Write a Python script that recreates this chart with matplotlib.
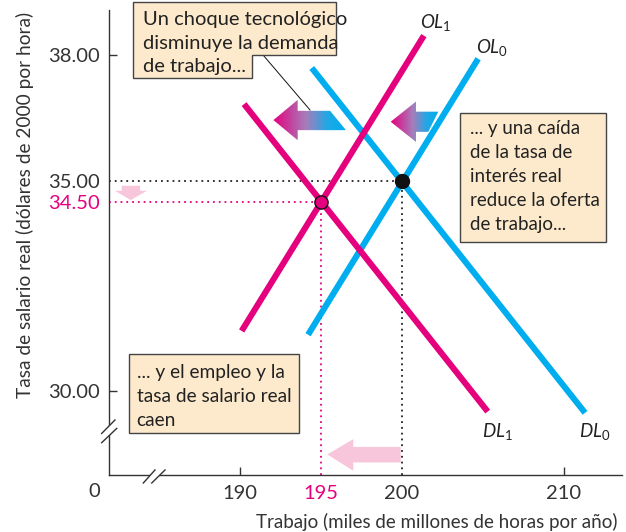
import matplotlib
matplotlib.use('Agg')
import matplotlib.pyplot as plt
import numpy as np
from matplotlib.patches import Polygon
from matplotlib.colors import LinearSegmentedColormap

plt.rcParams['font.family'] = ['Lato', 'DejaVu Sans']
plt.rcParams['mathtext.fontset'] = 'custom'
plt.rcParams['mathtext.it'] = 'Lato:italic'
plt.rcParams['mathtext.rm'] = 'Lato'

# ---------------- data ----------------
dl0_x = [194.43, 211.30]; dl0_y = [37.68, 29.47]
dl1_x = [190.25, 205.29]; dl1_y = [36.82, 29.50]
ol0_x = [194.20, 204.70]; ol0_y = [31.33, 37.90]
ol1_x = [190.10, 201.35]; ol1_y = [31.42, 38.45]
eq0 = (200.0, 35.0)
eq1 = (195.0, 34.5)
x_ticks = [190, 195, 200, 210]
x_labels = ['190', '195', '200', '210']
y_ticks = [30.0, 34.5, 35.0, 38.0]
y_labels = ['30.00', '34.50', '35.00', '38.00']

MAG = '#E5007E'
BLUE = '#00AEEF'
DARK = '#333333'
BOXFILL = '#FDE9CC'
PINK = '#F7C6DB'

fig = plt.figure(figsize=(6.26, 5.32), dpi=100)
ax = fig.add_axes([0.1746, 0.1071, 0.8190, 0.8741])
XMIN, XMAX, YMIN, YMAX = 181.93, 213.58, 27.99, 39.06
ax.set_xlim(XMIN, XMAX)
ax.set_ylim(YMIN, YMAX)
for s in ['top', 'right']:
    ax.spines[s].set_visible(False)
for s in ['left', 'bottom']:
    ax.spines[s].set_color(DARK)
    ax.spines[s].set_linewidth(1.0)

ax.set_xticks(x_ticks, x_labels)
ax.set_yticks(y_ticks, y_labels)
ax.tick_params(direction='in', length=6, width=1.0, color=DARK, labelsize=14.5, pad=7)
for lbl, t in zip(ax.get_xticklabels(), x_ticks):
    lbl.set_color(MAG if t == eq1[0] else DARK)
for lbl, t in zip(ax.get_yticklabels(), y_ticks):
    lbl.set_color(MAG if t == eq1[1] else DARK)
for tk, t in zip(ax.xaxis.get_major_ticks(), x_ticks):
    if t in (eq0[0], eq1[0]):
        tk.tick1line.set_visible(False)
for tk, t in zip(ax.yaxis.get_major_ticks(), y_ticks):
    if t in (eq0[1], eq1[1]):
        tk.tick1line.set_visible(False)

# dotted guide lines
dots = (0, (1, 2.2))
ax.plot([XMIN, eq0[0]], [eq0[1], eq0[1]], color='#222222', lw=1.3, ls=dots, zorder=1)
ax.plot([eq0[0], eq0[0]], [YMIN, eq0[1]], color='#222222', lw=1.3, ls=dots, zorder=1)
ax.plot([XMIN, eq1[0]], [eq1[1], eq1[1]], color=MAG, lw=1.3, ls=dots, zorder=1)
ax.plot([eq1[0], eq1[0]], [YMIN, eq1[1]], color=MAG, lw=1.3, ls=dots, zorder=1)

# curves
LW = 4.4
ax.plot(dl0_x, dl0_y, color=BLUE, lw=LW, solid_capstyle='butt', zorder=2)
ax.plot(ol0_x, ol0_y, color=BLUE, lw=LW, solid_capstyle='butt', zorder=2)
ax.plot(dl1_x, dl1_y, color=MAG, lw=LW, solid_capstyle='butt', zorder=2.1)
ax.plot(ol1_x, ol1_y, color=MAG, lw=LW, solid_capstyle='butt', zorder=2.1)

ax.plot([eq0[0]], [eq0[1]], 'o', color='#111111', ms=10, zorder=5)
ax.plot([eq1[0]], [eq1[1]], 'o', color=MAG, mec='#111111', mew=1.0, ms=9.5, zorder=5)

# curve labels
LBL = 13.5
ax.text(201.11, 38.63, r'$OL_1$', fontsize=LBL, color='#222222', ha='left', va='baseline')
ax.text(204.55, 38.04, r'$OL_0$', fontsize=LBL, color='#222222', ha='left', va='baseline')
ax.text(204.92, 28.89, r'$DL_1$', fontsize=LBL, color='#222222', ha='left', va='baseline')
ax.text(210.93, 28.89, r'$DL_0$', fontsize=LBL, color='#222222', ha='left', va='baseline')

# gradient arrows
cmap = LinearSegmentedColormap.from_list(
    'g', [(0, '#E5007E'), (0.45, '#A77DBA'), (0.75, '#1FA8E6'), (1.0, '#00AEEF')])
grad = np.linspace(0, 1, 256).reshape(1, -1)


def grad_arrow(verts):
    poly = Polygon(verts, closed=True, facecolor='none', edgecolor='none')
    ax.add_patch(poly)
    xs = [v[0] for v in verts]
    ys = [v[1] for v in verts]
    im = ax.imshow(grad, cmap=cmap, extent=(min(xs), max(xs), min(ys), max(ys)),
                   aspect='auto', origin='lower', zorder=4, interpolation='bilinear')
    im.set_clip_path(poly)


grad_arrow([(192.06, 36.44), (193.56, 36.92), (193.56, 36.66), (195.56, 36.66),
            (196.54, 36.20), (193.56, 36.20), (193.56, 35.96)])
grad_arrow([(199.30, 36.40), (200.86, 36.88), (200.86, 36.64), (202.24, 36.64),
            (201.62, 36.16), (200.86, 36.16), (200.86, 35.92)])

# pale pink arrows
ax.add_patch(Polygon([(182.70, 34.876), (183.83, 34.876), (183.83, 34.757), (184.26, 34.757),
                      (183.25, 34.536), (182.28, 34.757), (182.70, 34.757)],
                     closed=True, facecolor=PINK, edgecolor='none', zorder=3, clip_on=False))
ax.add_patch(Polygon([(195.39, 28.48), (196.99, 28.845), (196.99, 28.66), (199.92, 28.66),
                      (199.92, 28.29), (196.99, 28.29), (196.99, 28.09)],
                     closed=True, facecolor=PINK, edgecolor='none', zorder=3))
ax.set_xlim(XMIN, XMAX)
ax.set_ylim(YMIN, YMAX)

# text boxes
box_kw = dict(closed=True, facecolor=BOXFILL, edgecolor='#444444', lw=1.0, zorder=6, clip_on=False)
ax.add_patch(Polygon([(183.40, 39.25), (195.93, 39.25), (195.93, 37.99), (190.74, 37.99),
                      (190.74, 37.44), (183.40, 37.44)], **box_kw))
ax.add_patch(Polygon([(203.58, 36.61), (212.59, 36.61), (212.59, 33.54), (203.58, 33.54)], **box_kw))
ax.add_patch(Polygon([(183.15, 30.87), (193.64, 30.87), (193.64, 28.99), (183.15, 28.99)], **box_kw))

ax.plot([191.42, 194.32], [37.99, 36.68], color='#111111', lw=0.7, zorder=5)


def lines(x, y0, dy, texts, fs):
    for i, t in enumerate(texts):
        ax.text(x, y0 - i * dy, t, fontsize=fs, color='#222222', ha='left', va='baseline',
                zorder=7, clip_on=False)


lines(184.01, 38.70, 0.56, ['Un choque tecnológico', 'disminuye la demanda', 'de trabajo...'], 14.5)
lines(204.20, 36.10, 0.57, ['... y una caída', 'de la tasa de', 'interés real',
                            'reduce la oferta', 'de trabajo...'], 13.5)
lines(183.62, 30.29, 0.565, ['... y el empleo y la', 'tasa de salario real', 'caen'], 13.8)

# axis breaks
def brk(p1, p2, p3, p4):
    ax.add_patch(Polygon([p1, p2, p4, p3], closed=True, facecolor='white', edgecolor='none',
                         zorder=8, clip_on=False))
    ax.plot([p1[0], p2[0]], [p1[1], p2[1]], color=DARK, lw=1.0, zorder=9, clip_on=False)
    ax.plot([p3[0], p4[0]], [p3[1], p4[1]], color=DARK, lw=1.0, zorder=9, clip_on=False)


brk((181.46, 28.98), (182.28, 29.30), (181.46, 28.76), (182.39, 29.10))
brk((184.03, 27.80), (184.75, 28.11), (184.55, 27.80), (185.37, 28.11))

ax.text(180.99, 27.59, '0', fontsize=14.5, color=DARK, ha='center', va='center', clip_on=False)

fig.text(0.040, 0.615, 'Tasa de salario real (dólares de 2000 por hora)', rotation=90,
         fontsize=13.8, color=DARK, ha='center', va='center')
fig.text(0.698, 0.019, 'Trabajo (miles de millones de horas por año)',
         fontsize=13.5, color=DARK, ha='center', va='center')

fig.savefig('out.png', dpi=100)
